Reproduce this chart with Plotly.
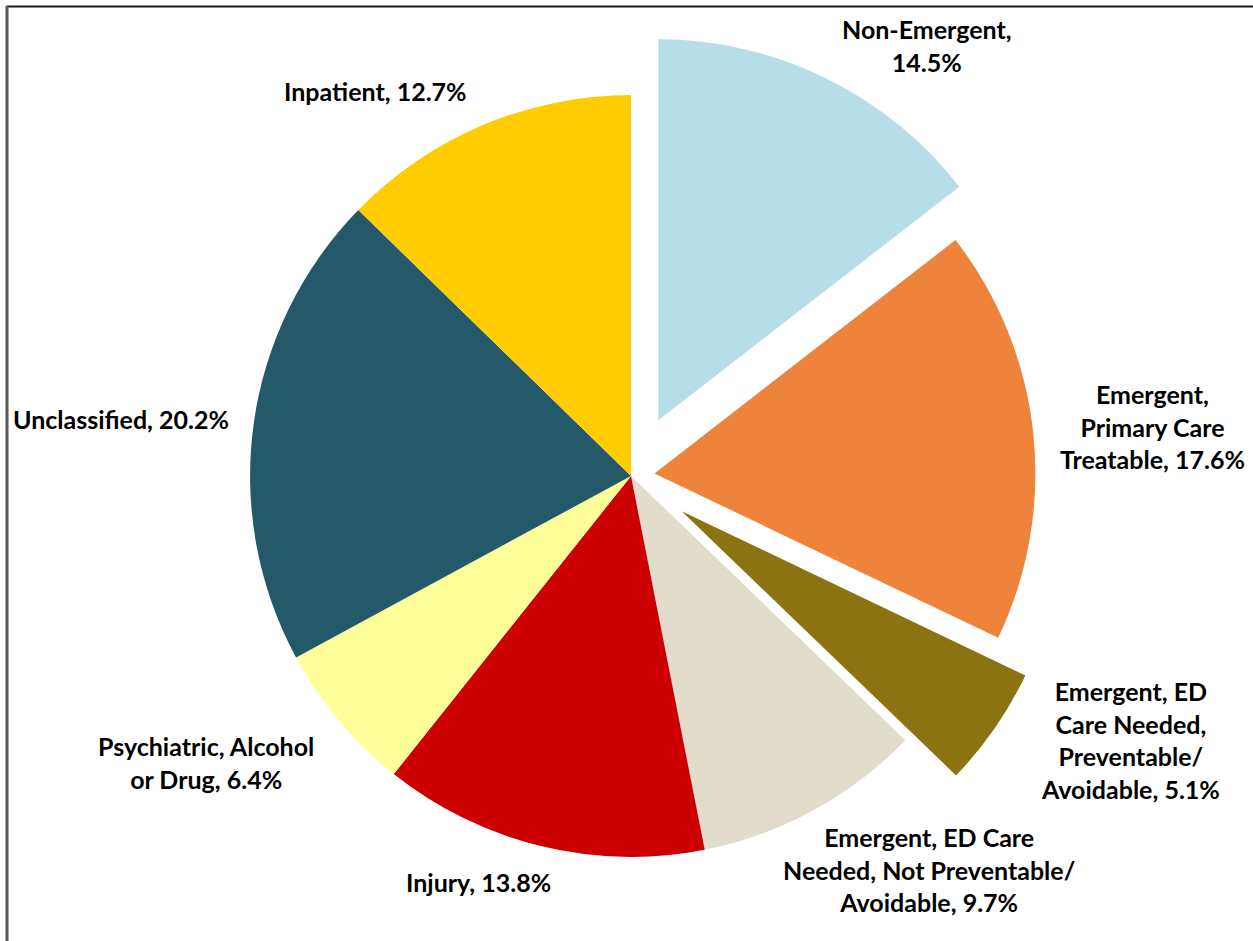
import plotly.graph_objects as go

# ED visit classification shares (percent), clockwise from 12 o'clock
categories = [
    "Non-Emergent",
    "Emergent, Primary Care Treatable",
    "Emergent, ED Care Needed, Preventable/Avoidable",
    "Emergent, ED Care Needed, Not Preventable/Avoidable",
    "Injury",
    "Psychiatric, Alcohol or Drug",
    "Unclassified",
    "Inpatient",
]
shares = [14.5, 17.6, 5.1, 9.7, 13.8, 6.4, 20.2, 12.7]

# how the category names wrap in their data labels
label_lines = [
    ["Non-Emergent,"],
    ["Emergent,", "Primary Care", "Treatable,"],
    ["Emergent, ED", "Care Needed,", "Preventable/", "Avoidable,"],
    ["Emergent, ED Care", "Needed, Not Preventable/", "Avoidable,"],
    ["Injury,"],
    ["Psychiatric, Alcohol", "or Drug,"],
    ["Unclassified,"],
    ["Inpatient,"],
]
# labels whose value goes on its own line
value_on_new_line = [True, False, False, False, False, False, False, False]

colors = ["#B7DDE8", "#EE843C", "#8B7311", "#E1DCCB",
          "#CC0000", "#FFFF99", "#235968", "#FFCC00"]
pulls = [0.163, 0.062, 0.162, 0, 0, 0, 0, 0]

W, H = 1253, 941

# label anchor points in page pixels, with horizontal anchoring
label_pos = [(927, 45), (1247, 426), (1130, 740), (929, 869),
             (478, 882), (206, 762), (121, 419), (375, 91)]
label_xanchor = ["center", "right", "center", "center",
                 "center", "center", "center", "center"]

fig = go.Figure(go.Pie(
    labels=categories,
    values=shares,
    sort=False,
    direction="clockwise",
    rotation=0,
    pull=pulls,
    marker=dict(colors=colors, line=dict(width=0)),
    textinfo="none",
    hoverinfo="label+percent",
    showlegend=False,
    domain=dict(x=[188 / W, 1074 / W], y=[22 / H, 908 / H]),
))

for lines, v, newline, (px, py), xa in zip(label_lines, shares, value_on_new_line,
                                           label_pos, label_xanchor):
    if newline:
        text = "<br>".join(lines + [f"{v}%"])
    else:
        text = "<br>".join(lines[:-1] + [f"{lines[-1]} {v}%"])
    fig.add_annotation(
        x=px / W, y=1 - py / H, xref="paper", yref="paper",
        text=text, showarrow=False, align="center",
        xanchor=xa, yanchor="middle",
        font=dict(family="Lato", size=25, color="#000000", weight="bold"),
    )

# chart frame
fig.add_shape(type="line", xref="paper", yref="paper",
              x0=6.5 / W, x1=1.02, y0=1 - 6.5 / H, y1=1 - 6.5 / H,
              line=dict(color="#1a1a1a", width=2))
fig.add_shape(type="line", xref="paper", yref="paper",
              x0=7 / W, x1=7 / W, y0=-0.02, y1=1 - 6 / H,
              line=dict(color="#595959", width=3))

fig.update_layout(
    width=W, height=H,
    margin=dict(l=0, r=0, t=0, b=0),
    paper_bgcolor="#FFFFFF",
    plot_bgcolor="#FFFFFF",
)

fig.write_html("out.html")
